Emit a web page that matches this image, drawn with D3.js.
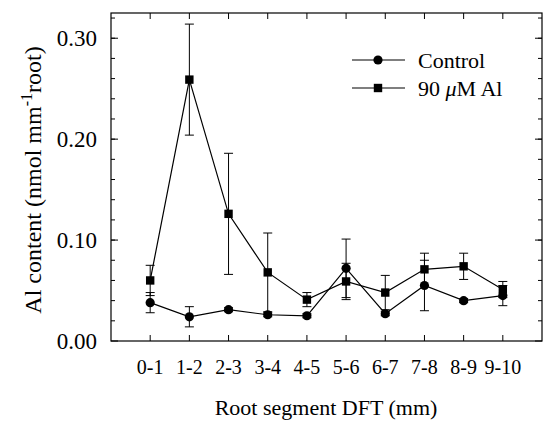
<!DOCTYPE html>
<html><head><meta charset="utf-8">
<script src="https://cdn.jsdelivr.net/npm/d3@7"></script>
<style>
body{margin:0;background:#fff;}
</style></head>
<body>
<svg id="c" width="551" height="421"></svg>
<script>
const categories = ["0-1","1-2","2-3","3-4","4-5","5-6","6-7","7-8","8-9","9-10"];
const controlMean = [0.038,0.024,0.031,0.026,0.025,0.072,0.027,0.055,0.040,0.045];
const controlErr  = [0.010,0.010,0.002,0.002,0.002,0.029,0.002,0.025,0.002,0.010];
const alMean = [0.060,0.259,0.126,0.068,0.041,0.059,0.048,0.071,0.074,0.051];
const alErr  = [0.015,0.055,0.060,0.039,0.007,0.018,0.017,0.016,0.013,0.008];
const yTicks = [0.00,0.10,0.20,0.30];
const yMinor = d3.range(0.02,0.33,0.02);

const FONT = "'Times New Roman', 'Liberation Serif', Times, serif";
const svg = d3.select("#c").attr("font-family", FONT);
const L=111, R=542, T=13, B=341;
const x = d3.scaleLinear().domain([0,11]).range([L,R]);
const y = d3.scaleLinear().domain([0,0.325]).range([B,T]);

svg.append("rect").attr("x",L).attr("y",T).attr("width",R-L).attr("height",B-T)
  .attr("fill","none").attr("stroke","#000").attr("stroke-width",1.2);

const g = svg.append("g").attr("stroke","#000").attr("stroke-width",1);
yMinor.forEach(v=>{
  g.append("line").attr("x1",L).attr("x2",L+4).attr("y1",y(v)).attr("y2",y(v));
  g.append("line").attr("x1",R).attr("x2",R-4).attr("y1",y(v)).attr("y2",y(v));
});
yTicks.forEach(v=>{
  g.append("line").attr("x1",L).attr("x2",L+7).attr("y1",y(v)).attr("y2",y(v));
  g.append("line").attr("x1",R).attr("x2",R-7).attr("y1",y(v)).attr("y2",y(v));
});
categories.forEach((c,i)=>{
  g.append("line").attr("x1",x(i+1)).attr("x2",x(i+1)).attr("y1",B).attr("y2",B-6);
  g.append("line").attr("x1",x(i+1)).attr("x2",x(i+1)).attr("y1",T).attr("y2",T+6);
});

function txt(sel){ return sel.attr("font-family",FONT).attr("fill","#000"); }

txt(svg.selectAll(".yl").data(yTicks).enter().append("text"))
  .attr("x",L-14).attr("y",d=>y(d)).attr("dy","0.35em").attr("text-anchor","end")
  .attr("font-size",23).text(d=>d3.format(".2f")(d));
txt(svg.selectAll(".xl").data(categories).enter().append("text"))
  .attr("x",(d,i)=>x(i+1)).attr("y",374).attr("text-anchor","middle")
  .attr("font-size",20).text(d=>d);

txt(svg.append("text")).attr("x",326).attr("y",415).attr("text-anchor","middle")
  .attr("font-size",22).text("Root segment DFT (mm)");

const yt = txt(svg.append("text")).attr("transform","translate(41,180) rotate(-90)")
  .attr("text-anchor","middle").attr("font-size",24);
yt.append("tspan").text("Al content (nmol mm");
yt.append("tspan").attr("dy","-9").attr("font-size",16).text("-1");
yt.append("tspan").attr("dy","9").text("root)");

const line = d3.line().x((d,i)=>x(i+1)).y(d=>y(d));
function series(mean, err, shape){
  const s = svg.append("g");
  s.append("path").attr("d",line(mean)).attr("fill","none").attr("stroke","#000").attr("stroke-width",1.2);
  mean.forEach((m,i)=>{
    const cx=x(i+1), e=err[i];
    s.append("line").attr("x1",cx).attr("x2",cx).attr("y1",y(m-e)).attr("y2",y(m+e)).attr("stroke","#000");
    [m-e,m+e].forEach(v=>s.append("line").attr("x1",cx-4.5).attr("x2",cx+4.5).attr("y1",y(v)).attr("y2",y(v)).attr("stroke","#000"));
  });
  mean.forEach((m,i)=>{
    const cx=x(i+1), cy=y(m);
    if(shape==="circle") s.append("circle").attr("cx",cx).attr("cy",cy).attr("r",4.6).attr("fill","#000");
    else s.append("rect").attr("x",cx-4.2).attr("y",cy-4.2).attr("width",8.4).attr("height",8.4).attr("fill","#000");
  });
}
series(alMean, alErr, "square");
series(controlMean, controlErr, "circle");

const lg = svg.append("g");
[["Control","circle",60],["90 μM Al","square",88]].forEach(([t,sh,ly])=>{
  lg.append("line").attr("x1",352).attr("x2",405).attr("y1",ly).attr("y2",ly).attr("stroke","#000").attr("stroke-width",1.2);
  if(sh==="circle") lg.append("circle").attr("cx",378).attr("cy",ly).attr("r",4.6).attr("fill","#000");
  else lg.append("rect").attr("x",378-4.2).attr("y",ly-4.2).attr("width",8.4).attr("height",8.4).attr("fill","#000");
  const tx = txt(lg.append("text")).attr("x",418).attr("y",ly).attr("dy","0.35em").attr("font-size",22);
  if(sh==="circle") tx.text(t);
  else { tx.append("tspan").text("90 "); tx.append("tspan").attr("font-style","italic").text("μ"); tx.append("tspan").text("M Al"); }
});
</script>
</body></html>
